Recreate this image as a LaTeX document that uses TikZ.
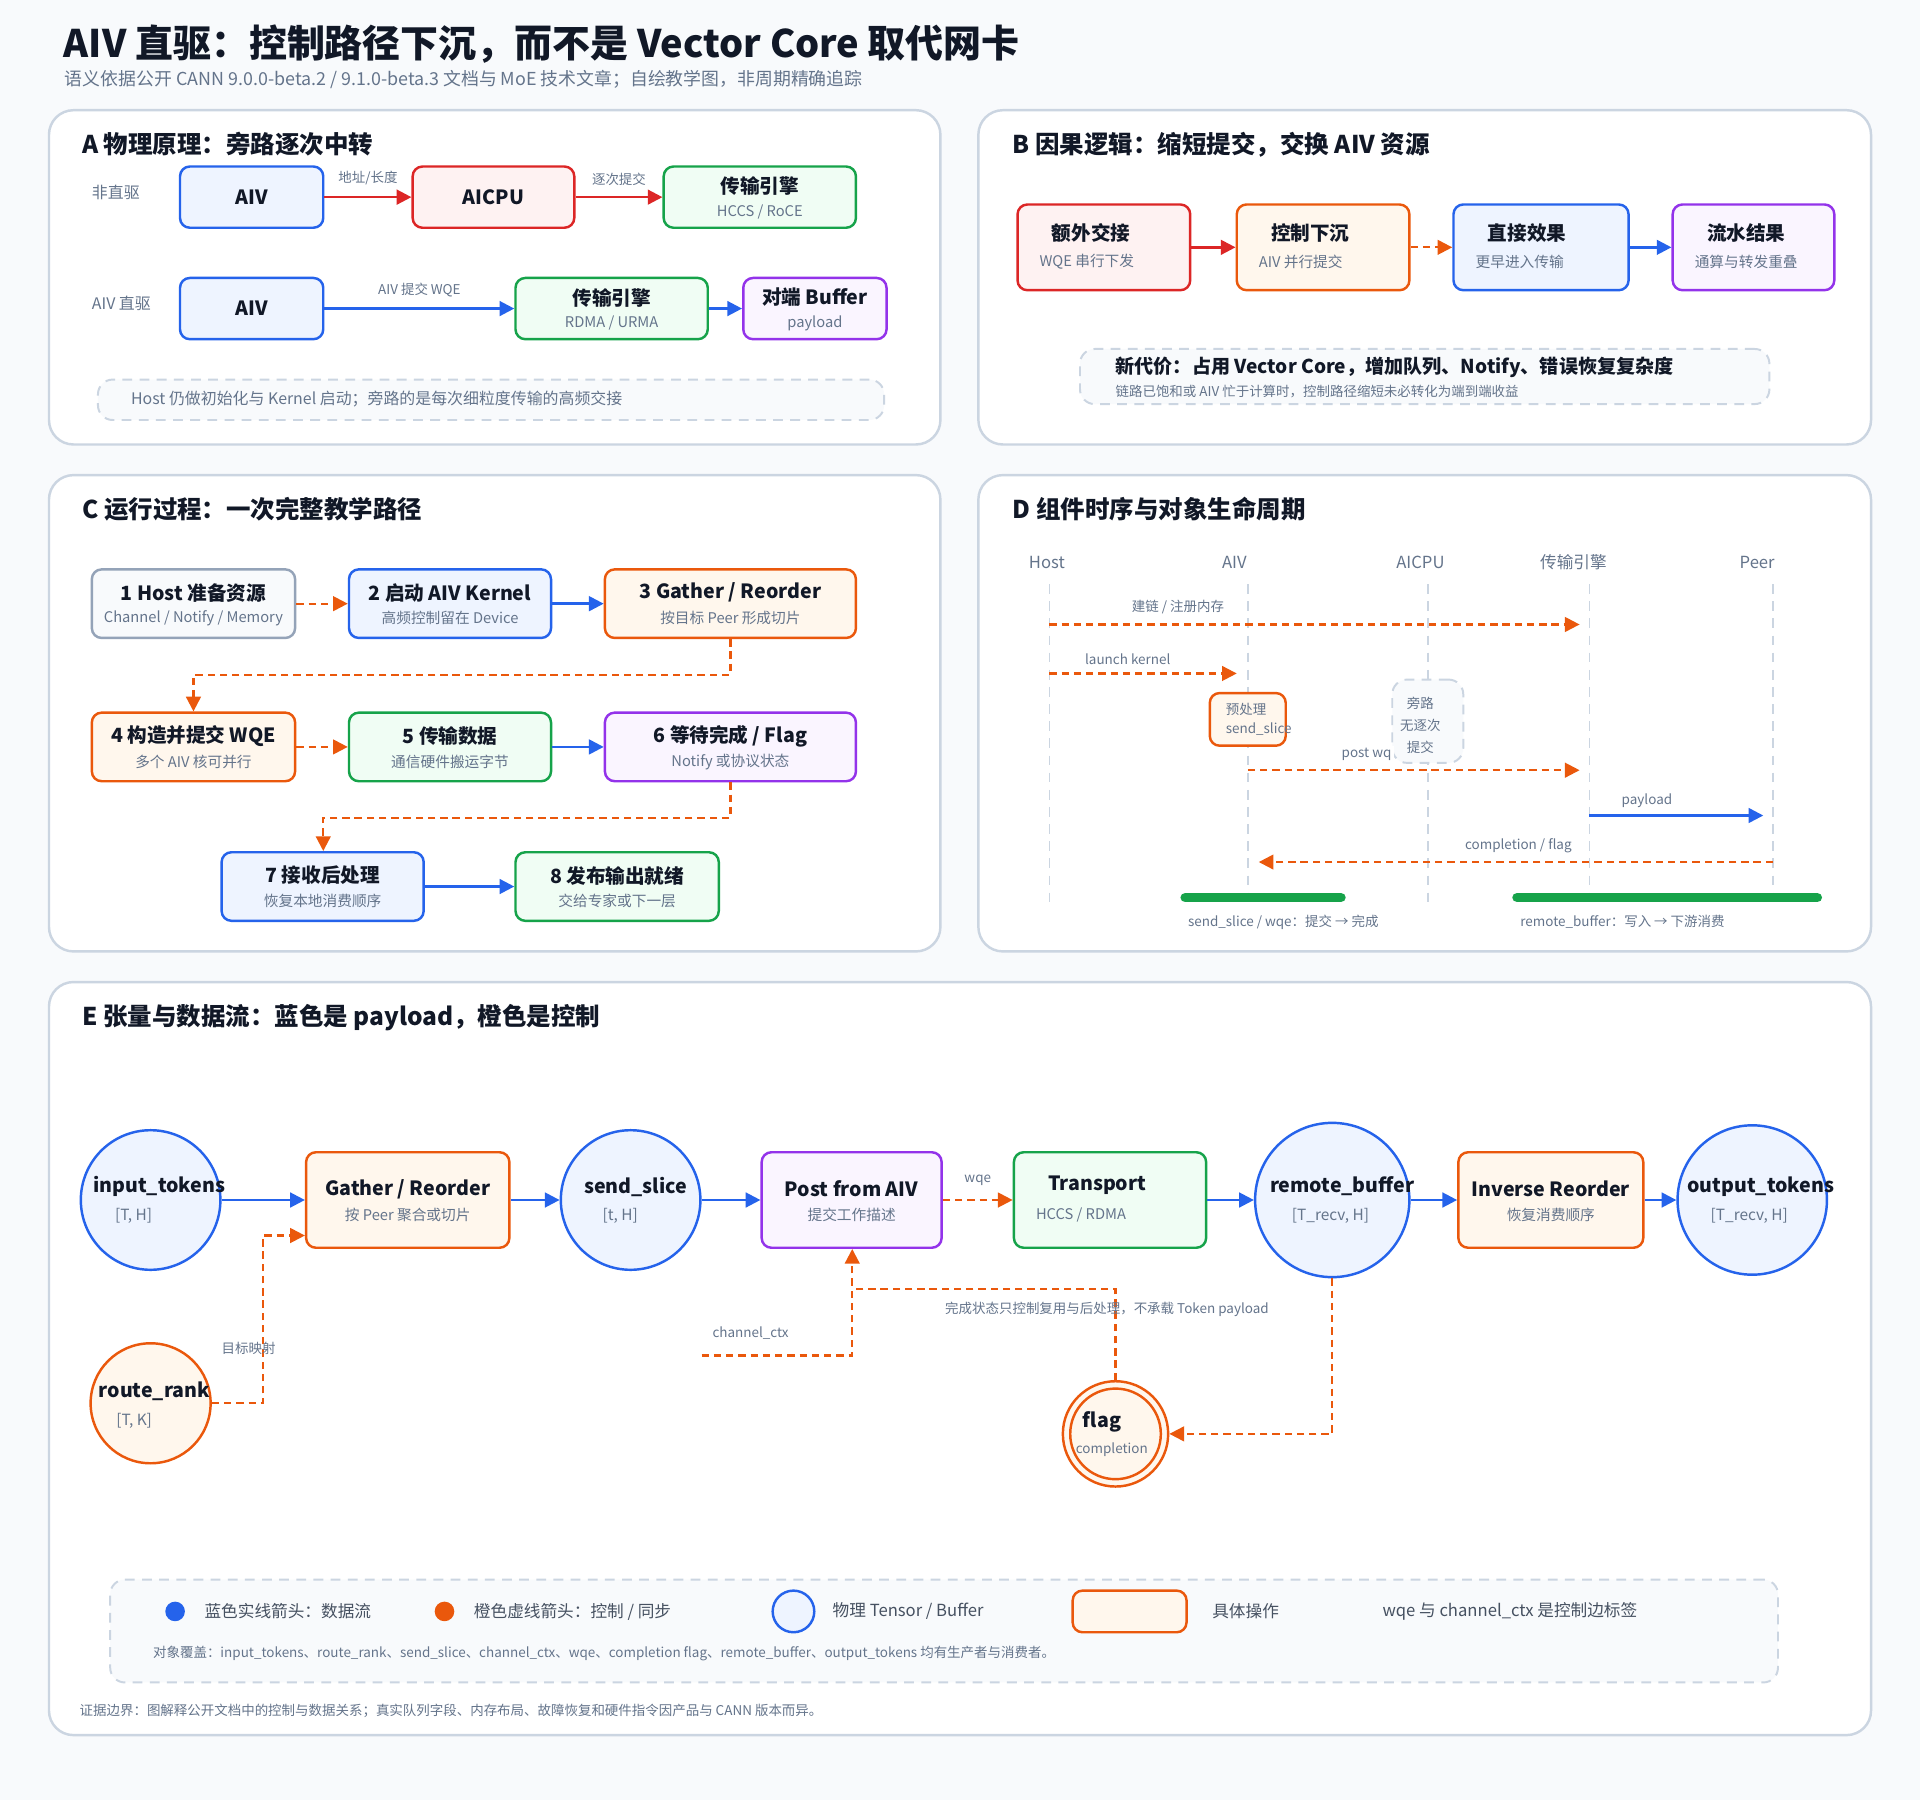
\documentclass[tikz,border=0pt]{standalone}
\usepackage{fontspec}
\setmainfont{Noto Sans CJK SC}
\usetikzlibrary{arrows.meta,fit,positioning}
\definecolor{BL}{HTML}{2563EB}\definecolor{BF}{HTML}{EEF4FF}
\definecolor{RL}{HTML}{DC2626}\definecolor{RF}{HTML}{FEF2F2}
\definecolor{GL}{HTML}{16A34A}\definecolor{GF}{HTML}{F0FDF4}
\definecolor{OL}{HTML}{EA580C}\definecolor{OF}{HTML}{FFF7ED}
\definecolor{PL}{HTML}{9333EA}\definecolor{PF}{HTML}{FAF5FF}
\definecolor{KL}{HTML}{94A3B8}\definecolor{KF}{HTML}{F8FAFC}
\definecolor{pbg}{HTML}{F8FAFC}\definecolor{pan}{HTML}{CBD5E1}
\definecolor{txt}{HTML}{111827}\definecolor{sub}{HTML}{64748B}
\tikzset{
 bx/.style={draw=#1L, fill=#1F, line width=1pt, rounded corners=4pt, inner sep=0pt},
 panel/.style={draw=pan, fill=white, line width=1pt, rounded corners=10pt},
 note/.style={draw=pan, fill=KF, line width=0.8pt, dashed, dash pattern=on 4pt off 3pt, rounded corners=6pt},
 ptitle/.style={anchor=west, font=\fontsize{10}{12}\selectfont\bfseries, text=txt},
 bt/.style={font=\fontsize{8}{10}\selectfont\bfseries, text=txt},
 st/.style={font=\fontsize{6}{7}\selectfont, text=sub},
 lb/.style={font=\fontsize{5.5}{7}\selectfont, text=sub},
 dat/.style={draw=BL, line width=1pt, -{Triangle[length=6pt,width=6pt]}},
 ctl/.style={draw=OL, line width=0.9pt, dash pattern=on 3pt off 2pt, -{Triangle[length=6pt,width=6pt]}},
 red/.style={draw=RL, line width=1pt, -{Triangle[length=6pt,width=6pt]}},
 life/.style={draw=pan, line width=0.7pt, dash pattern=on 4pt off 3pt},
 tc/.style={circle, draw=BL, fill=BF, line width=1pt, inner sep=0pt},
 oc/.style={circle, draw=OL, fill=OF, line width=1pt, inner sep=0pt},
}
\newcommand\bxx[8]{\node[bx=#2, fit={(#3,#4)(#5,#6)}] (#1) {};
 \node[bt] at ([yshift=4.5pt]#1.center) {#7};
 \node[st] at ([yshift=-6pt]#1.center) {#8};}
\newcommand\bxl[8]{\node[bx=#2, fit={(#3,#4)(#5,#6)}] (#1) {};
 \node[bt,anchor=west] at ([yshift=6pt,xshift=11pt]#1.west) {#7};
 \node[st,anchor=west] at ([yshift=-6pt,xshift=6pt]#1.west) {#8};}
\begin{document}
\begin{tikzpicture}[x=0.5pt,y=-0.5pt]
\fill[pbg] (0,0) rectangle (1568,1470);
\useasboundingbox (0,0) rectangle (1568,1470);
\node[anchor=west, font=\fontsize{15.5}{18}\selectfont\bfseries, text=txt] at (45,36) {AIV 直驱：控制路径下沉，而不是 Vector Core 取代网卡};
\node[anchor=west, font=\fontsize{7.3}{9}\selectfont, text=sub] at (46,65) {语义依据公开 CANN 9.0.0-beta.2 / 9.1.0-beta.3 文档与 MoE 技术文章；自绘教学图，非周期精确追踪};
% panels
\draw[panel] (40,90) rectangle (768,363);
\draw[panel] (799,90) rectangle (1528,363);
\draw[panel] (40,388) rectangle (768,777);
\draw[panel] (799,388) rectangle (1528,777);
\draw[panel] (40,802) rectangle (1528,1417);
\node[ptitle] at (60,118) {A 物理原理：旁路逐次中转};
\node[ptitle] at (820,118) {B 因果逻辑：缩短提交，交换 AIV 资源};
\node[ptitle] at (60,416) {C 运行过程：一次完整教学路径};
\node[ptitle] at (820,416) {D 组件时序与对象生命周期};
\node[ptitle] at (60,831) {E 张量与数据流：蓝色是 payload，橙色是控制};
% ---- A
\node[anchor=west, font=\fontsize{6.5}{8}\selectfont, text=sub] at (68,157) {非直驱};
\node[anchor=west, font=\fontsize{6.5}{8}\selectfont, text=sub] at (68,248) {AIV 直驱};
\node[bx=B, fit={(147,136)(264,186)}] (a1) {}; \node[bt] at (a1) {AIV};
\node[bx=R, fit={(337,136)(469,186)}] (a2) {}; \node[bt] at (a2) {AICPU};
\bxx{a3}{G}{542}{136}{699}{186}{传输引擎}{HCCS / RoCE}
\draw[red] (a1) -- (a2) node[lb, midway, above=1pt] {地址/长度};
\draw[red] (a2) -- (a3) node[lb, midway, above=1pt] {逐次提交};
\node[bx=B, fit={(147,227)(264,277)}] (b1) {}; \node[bt] at (b1) {AIV};
\bxx{b2}{G}{421}{227}{578}{277}{传输引擎}{RDMA / URMA}
\bxx{b3}{P}{607}{227}{724}{277}{对端 Buffer}{payload}
\draw[dat] (b1) -- (b2) node[lb, midway, above=1pt] {AIV 提交 WQE};
\draw[dat] (b2) -- (b3);
\node[note, fit={(80,310)(722,343)}, inner sep=0pt] (an) {};
\node[anchor=west, font=\fontsize{6.5}{8}\selectfont, text=sub] at (100,326) {Host 仍做初始化与 Kernel 启动；旁路的是每次细粒度传输的高频交接};
% ---- B
\bxl{c1}{R}{831}{167}{972}{237}{额外交接}{WQE 串行下发}
\bxl{c2}{O}{1010}{167}{1151}{237}{控制下沉}{AIV 并行提交}
\bxl{c3}{B}{1187}{167}{1330}{237}{直接效果}{更早进入传输}
\bxl{c4}{P}{1366}{167}{1498}{237}{流水结果}{通算与转发重叠}
\draw[red] (c1) -- (c2);
\draw[ctl] (c2) -- (c3);
\draw[dat] (c3) -- (c4);
\node[note, fit={(882,285)(1445,330)}, inner sep=0pt] (bn) {};
\node[anchor=west, font=\fontsize{7.8}{9}\selectfont\bfseries, text=txt] at (904,300) {新代价：占用 Vector Core，增加队列、Notify、错误恢复复杂度};
\node[anchor=west, font=\fontsize{5.5}{7}\selectfont, text=sub] at (904,320) {链路已饱和或 AIV 忙于计算时，控制路径缩短未必转化为端到端收益};
% ---- C
\bxx{s1}{K}{75}{465}{241}{521}{1 Host 准备资源}{Channel / Notify / Memory}
\bxx{s2}{B}{285}{465}{450}{521}{2 启动 AIV Kernel}{高频控制留在 Device}
\bxx{s3}{O}{494}{465}{699}{521}{3 Gather / Reorder}{按目标 Peer 形成切片}
\bxx{s4}{O}{75}{582}{241}{638}{4 构造并提交 WQE}{多个 AIV 核可并行}
\bxx{s5}{G}{285}{582}{450}{638}{5 传输数据}{通信硬件搬运字节}
\bxx{s6}{P}{494}{582}{699}{638}{6 等待完成 / Flag}{Notify 或协议状态}
\bxx{s7}{B}{181}{696}{346}{752}{7 接收后处理}{恢复本地消费顺序}
\bxx{s8}{G}{421}{696}{587}{752}{8 发布输出就绪}{交给专家或下一层}
\draw[ctl] (s1) -- (s2);
\draw[dat] (s2) -- (s3);
\draw[ctl] (s3.south) -- ++(0,29) -| (s4.north -| 158,0);
\draw[ctl] (s4) -- (s5);
\draw[dat] (s5) -- (s6);
\draw[ctl] (s6.south) -- ++(0,29) -| (s7.north -| 264,0);
\draw[dat] (s7) -- (s8);
% ---- D
\foreach \n/\x/\lx/\t in {h/857/855/Host, v/1019/1008/AIV, c/1166/1160/AICPU, t/1298/1285/传输引擎, p/1448/1435/Peer}{
 \node[font=\fontsize{6.8}{8}\selectfont, text=sub] (L\n) at (\lx,459) {\t};
 \coordinate (T\n) at (\x,477); \coordinate (B\n) at (\x,740);
 \draw[life] (T\n) -- (B\n);}
\coordinate (d1a) at (857,510); \coordinate (d1b) at (1290,510);
\draw[ctl] (d1a) -- (d1b);
\node[lb] at (962,496) {建链 / 注册内存};
\coordinate (d2a) at (857,550); \coordinate (d2b) at (1010,550);
\draw[ctl] (d2a) -- (d2b);
\node[lb] at (921,538) {launch kernel};
\node[bx=O, fit={(988,566)(1050,609)}] (pre) {};
\node[st, align=left, anchor=west, font=\fontsize{5.5}{8}\selectfont] at (994,587.5) {预处理\\send\_slice};
\node[note, fit={(1137,555)(1195,623)}, inner sep=0pt] (byp) {};
\node[st, align=center, font=\fontsize{5.5}{9}\selectfont] at (1160,592) {旁路\\无逐次\\提交};
\coordinate (d3a) at (1019,629); \coordinate (d3b) at (1290,629);
\draw[ctl] (d3a) -- (d3b);
\node[lb, fill=white, inner sep=1pt] at (1116,616) {post wq};
\coordinate (d4a) at (1298,666); \coordinate (d4b) at (1440,666);
\draw[dat] (d4a) -- (d4b);
\node[lb] at (1345,654) {payload};
\coordinate (d5a) at (1448,704); \coordinate (d5b) at (1028,704);
\draw[ctl] (d5a) -- (d5b);
\node[lb] at (1240,691) {completion / flag};
\draw[GL, line width=4pt, line cap=round] (968,733) -- (1095,733);
\draw[GL, line width=4pt, line cap=round] (1239,733) -- (1484,733);
\node[lb] at (1048,753) {send\_slice / wqe：提交 → 完成};
\node[lb] at (1325,753) {remote\_buffer：写入 → 下游消费};
% ---- E
\tikzset{ct/.style={font=\fontsize{8}{10}\selectfont\bfseries, text=txt}, cs/.style={font=\fontsize{6.3}{8}\selectfont, text=sub}}
\node[tc, minimum size=57pt] (e1) at (123,980) {};
\node[ct] at (130,969) {input\_tokens}; \node[cs, anchor=west] at (87,993) {[T, H]};
\bxx{e2}{O}{250}{941}{416}{1019}{Gather / Reorder}{按 Peer 聚合或切片}
\node[tc, minimum size=57pt] (e3) at (515,980) {};
\node[ct] at (519,969) {send\_slice}; \node[cs, anchor=west] at (485,993) {[t, H]};
\bxx{e4}{P}{622}{941}{769}{1019}{Post from AIV}{提交工作描述}
\bxl{e5}{G}{828}{941}{985}{1019}{Transport}{HCCS / RDMA}
\node[tc, minimum size=63pt] (e6) at (1088,980) {};
\node[ct] at (1096,969) {remote\_buffer}; \node[cs, anchor=west] at (1048,993) {[T\_recv, H]};
\bxx{e7}{O}{1191}{941}{1342}{1019}{Inverse Reorder}{恢复消费顺序}
\node[tc, minimum size=61pt] (e8) at (1431,980) {};
\node[ct] at (1438,969) {output\_tokens}; \node[cs, anchor=west] at (1390,993) {[T\_recv, H]};
\node[oc, minimum size=49pt] (rr) at (123,1146) {};
\node[ct] at (126,1136) {route\_rank}; \node[cs, anchor=west] at (88,1160) {[T, K]};
\node[oc, minimum size=43pt] (fl) at (911,1171) {};
\draw[OL, line width=1pt] (fl) circle (18.5pt);
\node[ct] at (900,1161) {flag}; \node[cs, font=\fontsize{5.5}{7}\selectfont] at (908,1184) {completion};
\draw[dat] (e1) -- (e2); \draw[dat] (e2) -- (e3); \draw[dat] (e3) -- (e4);
\draw[ctl] (e4) -- (e5) node[lb, midway, above=2pt] {wqe};
\draw[dat] (e5) -- (e6); \draw[dat] (e6) -- (e7); \draw[dat] (e7) -- (e8);
\draw[ctl] (rr.east) -- (215,1146) -- (215,1009) -- (e2.west |- 0,1009);
\node[lb] at (203,1101) {目标映射};
\coordinate (cc) at (573,1107);
\draw[ctl] (cc) -- (696,1107) -- (e4.south -| 696,0);
\node[lb] at (613,1089) {channel\_ctx};
\draw[OL, line width=0.9pt, dash pattern=on 3pt off 2pt] (fl.north) -- (911,1053) -- (696,1053);
\node[lb] at (904,1069) {完成状态只控制复用与后处理，不承载 Token payload};
\draw[ctl] (e6.south) -- (1088,1171) -- (fl.east);
% legend
\node[note, fit={(90,1290)(1452,1374)}, inner sep=0pt] (lg) {};
\tikzset{lt/.style={anchor=west, font=\fontsize{6.8}{8}\selectfont, text=sub!70!black}}
\node[circle, fill=BL, minimum size=8pt, inner sep=0pt] (k1) at (143,1316) {};
\node[lt] at (160,1316) {蓝色实线箭头：数据流};
\node[circle, fill=OL, minimum size=8pt, inner sep=0pt] (k2) at (363,1316) {};
\node[lt] at (380,1316) {橙色虚线箭头：控制 / 同步};
\node[tc, minimum size=17pt] (k3) at (648,1316) {};
\node[lt] at (673,1316) {物理 Tensor / Buffer};
\node[bx=O, fit={(876,1299)(969,1333)}] (k4) {};
\node[lt] at (983,1316) {具体操作};
\node[lt] at (1122,1316) {wqe 与 channel\_ctx 是控制边标签};
\node[anchor=west, font=\fontsize{5.5}{7}\selectfont, text=sub] at (118,1350) {对象覆盖：input\_tokens、route\_rank、send\_slice、channel\_ctx、wqe、completion flag、remote\_buffer、output\_tokens 均有生产者与消费者。};
\node[anchor=west, font=\fontsize{5.5}{7}\selectfont, text=sub] at (58,1397) {证据边界：图解释公开文档中的控制与数据关系；真实队列字段、内存布局、故障恢复和硬件指令因产品与 CANN 版本而异。};
\end{tikzpicture}
\end{document}
